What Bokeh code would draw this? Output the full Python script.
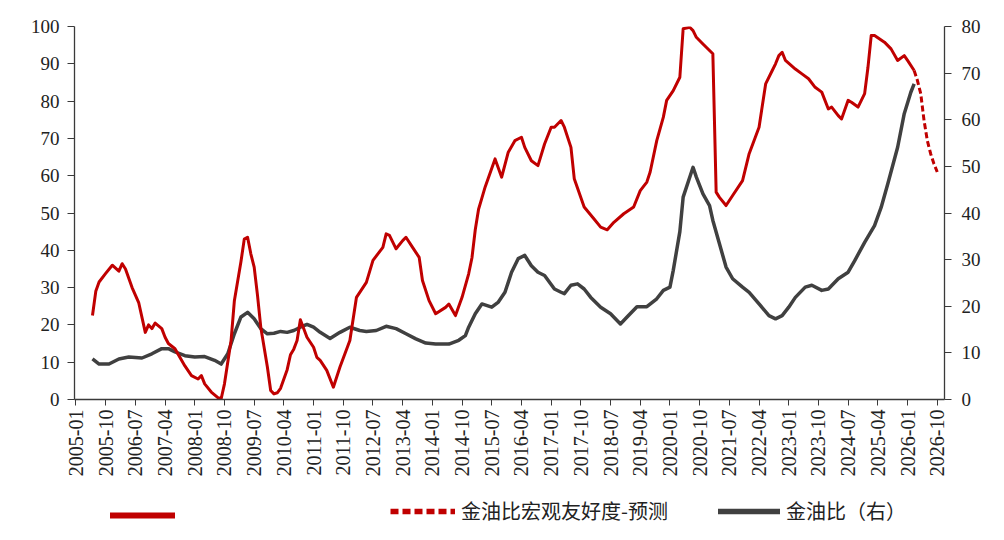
import numpy as np
from bokeh.plotting import figure
from bokeh.layouts import column
from bokeh.models import Range1d, LinearAxis, Legend, LegendItem, FixedTicker, ColumnDataSource
from bokeh.embed import file_html
from bokeh.resources import INLINE
from bokeh.core.properties import value

# ---------------- data ----------------
x_tick_labels = ["2005-01", "2005-10", "2006-07", "2007-04", "2008-01", "2008-10", "2009-07",
                 "2010-04", "2011-01", "2011-10", "2012-07", "2013-04", "2014-01", "2014-10",
                 "2015-07", "2016-04", "2017-01", "2017-10", "2018-07", "2019-04", "2020-01",
                 "2020-10", "2021-07", "2022-04", "2023-01", "2023-10", "2024-07", "2025-04",
                 "2026-01", "2026-10"]
left_ticks = [0, 10, 20, 30, 40, 50, 60, 70, 80, 90, 100]
right_ticks = [0, 10, 20, 30, 40, 50, 60, 70, 80]

# 金油比宏观友好度 (left axis)
friendly_dates = ["2005-06", "2005-07", "2005-08", "2005-10", "2005-12", "2006-02", "2006-03", "2006-04",
                  "2006-06", "2006-08", "2006-10", "2006-11", "2006-12", "2007-01", "2007-03", "2007-04",
                  "2007-05", "2007-07", "2007-09", "2007-10", "2007-12", "2008-02", "2008-03", "2008-04",
                  "2008-06", "2008-08", "2008-09", "2008-10", "2008-12", "2009-01", "2009-03", "2009-04",
                  "2009-05", "2009-06", "2009-07", "2009-08", "2009-09", "2009-11", "2009-12", "2010-01",
                  "2010-02", "2010-03", "2010-05", "2010-06", "2010-07", "2010-08", "2010-09", "2010-11",
                  "2011-01", "2011-02", "2011-03", "2011-05", "2011-07", "2011-09", "2011-12", "2012-02",
                  "2012-05", "2012-07", "2012-10", "2012-11", "2012-12", "2013-02", "2013-04", "2013-05",
                  "2013-07", "2013-09", "2013-10", "2013-12", "2014-02", "2014-05", "2014-06", "2014-08",
                  "2014-10", "2014-12", "2015-01", "2015-02", "2015-03", "2015-04", "2015-05", "2015-08",
                  "2015-10", "2015-12", "2016-02", "2016-04", "2016-05", "2016-07", "2016-09", "2016-11",
                  "2017-01", "2017-02", "2017-04", "2017-05", "2017-07", "2017-08", "2017-11", "2018-02",
                  "2018-04", "2018-06", "2018-08", "2018-11", "2019-02", "2019-04", "2019-06", "2019-07",
                  "2019-09", "2019-11", "2019-12", "2020-02", "2020-04", "2020-05", "2020-07", "2020-08",
                  "2020-09", "2020-11", "2021-02", "2021-03", "2021-04", "2021-06", "2021-08", "2021-11",
                  "2022-01", "2022-04", "2022-06", "2022-08", "2022-09", "2022-10", "2022-11", "2022-12",
                  "2023-03", "2023-05", "2023-07", "2023-09", "2023-11", "2024-01", "2024-02", "2024-04",
                  "2024-05", "2024-07", "2024-08", "2024-10", "2024-12", "2025-01", "2025-02", "2025-03",
                  "2025-06", "2025-08", "2025-10", "2025-12", "2026-01", "2026-03"]
friendly_values = [22.5, 29, 31.5, 33.8, 36, 34.4, 36.4, 35,
                   30, 26, 18, 20, 19, 20.5, 19, 16.7,
                   15, 13.6, 10.5, 9, 6.4, 5.5, 6.4, 4.2,
                   2, 0.5, 0.2, 4.2, 15.8, 26.5, 37, 43,
                   43.5, 39, 35.5, 28, 19.4, 8.7, 2.4, 1.5,
                   1.8, 3, 8, 12, 13.5, 15.8, 21.4, 16.7,
                   14, 11.3, 10.5, 7.8, 3.3, 8.7, 15.8, 27.4,
                   31.4, 37.3, 40.8, 44.4, 44, 40.4, 42.6, 43.5,
                   40.8, 38.1, 31.9, 26.5, 23, 24.7, 25.6, 22.5,
                   27.4, 33.7, 38, 45.5, 51, 54, 57, 64.5,
                   59.6, 66.3, 69.4, 70.3, 67.6, 64, 62.7, 68.5,
                   73, 73, 74.8, 73, 67.6, 59.2, 51.6, 48.4,
                   46.2, 45.5, 47.5, 49.8, 51.6, 56, 58.3, 61,
                   69.4, 75.7, 80.2, 82.8, 86.4, 99.4, 99.8, 98.9,
                   97.1, 95.3, 92.7, 55.6, 54.2, 52, 54.7, 58.7,
                   65.9, 73, 84.6, 88.2, 90, 92.2, 93.1, 90.9,
                   88.6, 87.3, 86, 83.7, 82.4, 77.9, 78.4, 76.1,
                   75.2, 80.2, 79.7, 78.4, 82, 89, 97.6, 97.6,
                   95.8, 94, 90.9, 92.2, 90.9, 88.2]

# 金油比宏观友好度-预测 (left axis)
forecast_dates = ["2026-03", "2026-04", "2026-05", "2026-06", "2026-07", "2026-08", "2026-09", "2026-10"]
forecast_values = [88.2, 85.5, 82, 74.8, 69.4, 65.9, 63.2, 61]

# 金油比 (right axis)
ratio_dates = ["2005-06", "2005-08", "2005-11", "2006-02", "2006-05", "2006-09", "2006-12", "2007-03",
               "2007-05", "2007-07", "2007-10", "2008-01", "2008-04", "2008-07", "2008-09", "2008-11",
               "2009-01", "2009-03", "2009-05", "2009-07", "2009-09", "2009-11", "2010-01", "2010-03",
               "2010-05", "2010-07", "2010-09", "2010-11", "2011-01", "2011-03", "2011-06", "2011-09",
               "2011-12", "2012-03", "2012-05", "2012-08", "2012-11", "2013-02", "2013-05", "2013-08",
               "2013-11", "2014-02", "2014-06", "2014-09", "2014-11", "2014-12", "2015-02", "2015-04",
               "2015-07", "2015-09", "2015-11", "2016-01", "2016-03", "2016-05", "2016-07", "2016-09",
               "2016-11", "2017-02", "2017-04", "2017-05", "2017-07", "2017-09", "2017-11", "2018-01",
               "2018-04", "2018-07", "2018-10", "2018-12", "2019-03", "2019-06", "2019-09", "2019-11",
               "2020-01", "2020-02", "2020-04", "2020-05", "2020-08", "2020-09", "2020-11", "2021-01",
               "2021-02", "2021-04", "2021-06", "2021-08", "2021-11", "2022-01", "2022-04", "2022-07",
               "2022-09", "2022-11", "2023-01", "2023-03", "2023-06", "2023-08", "2023-11", "2024-01",
               "2024-04", "2024-07", "2024-09", "2024-12", "2025-03", "2025-05", "2025-07", "2025-10",
               "2025-12", "2026-02", "2026-03"]
ratio_values = [8.7, 7.6, 7.6, 8.7, 9.1, 8.9, 9.8, 10.9,
                10.9, 10.2, 9.4, 9.1, 9.2, 8.4, 7.6, 9.8,
                14.1, 17.7, 18.7, 17.3, 15.2, 14.1, 14.2, 14.6,
                14.4, 14.8, 15.5, 16.1, 15.5, 14.4, 13.1, 14.4,
                15.5, 14.8, 14.6, 14.8, 15.7, 15.2, 14.1, 13,
                12.1, 11.9, 11.9, 12.7, 13.7, 15.5, 18.4, 20.5,
                19.8, 20.9, 23, 27.3, 30.2, 30.9, 28.7, 27.3,
                26.6, 23.7, 23, 22.7, 24.5, 24.8, 23.7, 21.9,
                19.8, 18.4, 16.2, 17.7, 19.9, 19.9, 21.6, 23.4,
                24.1, 27.7, 36, 43.4, 49.8, 47.7, 44.1, 41.6,
                38.4, 33.4, 28.4, 25.9, 24.1, 23, 20.5, 18,
                17.3, 18, 19.8, 21.9, 24.1, 24.5, 23.4, 23.7,
                25.9, 27.3, 29.8, 33.7, 37.3, 41.2, 46.2, 54.1,
                61.3, 65.9, 67.7]


def month_index(s):
    y, m = s.split("-")
    return (int(y) - 2005) * 12 + int(m) - 1


RED = "#C00000"
GRAY = "#404040"
AX = "#3a3a3a"

p = figure(width=1004, height=480, output_backend="svg", toolbar_location=None,
           x_range=Range1d(-0.45, 263.2), y_range=Range1d(0, 100),
           min_border_left=74, min_border_right=60, min_border_top=26, min_border_bottom=81)
p.extra_y_ranges = {"right": Range1d(0, 80)}
p.xgrid.visible = False
p.ygrid.visible = False
p.outline_line_color = None
p.background_fill_color = "white"
p.border_fill_color = "white"

# x axis
xa = p.xaxis[0]
xticks = [month_index(t) for t in x_tick_labels]
xa.ticker = FixedTicker(ticks=xticks)
xa.major_label_overrides = {t: l for t, l in zip(xticks, x_tick_labels)}
xa.major_label_orientation = np.pi / 2
xa.major_label_text_font = "Liberation Serif"
xa.major_label_text_font_size = "20px"
xa.major_label_text_color = "#222222"
xa.axis_line_color = AX
xa.major_tick_line_color = AX
xa.minor_tick_line_color = None
xa.major_tick_in = 0
xa.major_tick_out = 6
xa.major_label_standoff = 4
xa.axis_line_width = 1.3

# left axis
ya = p.yaxis[0]
ya.ticker = FixedTicker(ticks=left_ticks)
ya.major_label_text_font = "Liberation Serif"
ya.major_label_text_font_size = "19px"
ya.major_label_text_color = "#222222"
ya.axis_line_color = AX
ya.major_tick_line_color = AX
ya.minor_tick_line_color = None
ya.major_tick_in = 0
ya.major_tick_out = 7
ya.major_label_standoff = 8
ya.axis_line_width = 1.3

# right axis
ra = LinearAxis(y_range_name="right", ticker=FixedTicker(ticks=right_ticks))
ra.major_label_text_font = "Liberation Serif"
ra.major_label_text_font_size = "19px"
ra.major_label_text_color = "#222222"
ra.axis_line_color = AX
ra.major_tick_line_color = AX
ra.minor_tick_line_color = None
ra.major_tick_in = 0
ra.major_tick_out = 7
ra.major_label_standoff = 10
ra.axis_line_width = 1.3
p.add_layout(ra, "right")

# series
gsrc = ColumnDataSource(dict(x=[month_index(d) for d in ratio_dates], y=ratio_values))
fsrc = ColumnDataSource(dict(x=[month_index(d) for d in friendly_dates], y=friendly_values))
csrc = ColumnDataSource(dict(x=[month_index(d) for d in forecast_dates], y=forecast_values))

p.line("x", "y", source=gsrc, y_range_name="right", line_color=GRAY, line_width=3.5, line_join="round")
p.line("x", "y", source=fsrc, line_color=RED, line_width=3, line_join="round")
p.line("x", "y", source=csrc, line_color=RED, line_width=3, line_dash="6 3")

# ---------------- legend strip (separate figure below the chart) ----------------
q = figure(width=1004, height=60, output_backend="svg", toolbar_location=None,
           x_axis_location=None, y_axis_location=None,
           x_range=Range1d(0, 1), y_range=Range1d(0, 1),
           min_border_left=74, min_border_right=60, min_border_top=0, min_border_bottom=0)
q.xgrid.visible = False
q.ygrid.visible = False
q.outline_line_color = None
q.border_fill_color = "white"

# legend-only renderers: their points sit outside the visible range
off = dict(x=[-5, -4], y=[-5, -5])
l1 = q.line("x", "y", source=ColumnDataSource(off), line_color=RED, line_width=6, line_cap="round")
l2 = q.line("x", "y", source=ColumnDataSource(off), line_color=RED, line_width=5.5, line_dash="8 4")
l3 = q.line("x", "y", source=ColumnDataSource(off), line_color=GRAY, line_width=5.5, line_cap="round")


def make_legend(r, label, loc, gw):
    lg = Legend(items=[LegendItem(label=value(label), renderers=[r])], location=loc,
                orientation="horizontal", padding=0, margin=0, spacing=0,
                glyph_width=gw, glyph_height=20, label_standoff=6,
                label_text_font="Noto Sans CJK SC", label_text_font_size="20px",
                label_text_color="#222222", border_line_alpha=0, background_fill_alpha=0)
    q.add_layout(lg, "center")


make_legend(l1, " ", (36, 15), 65)
make_legend(l2, "金油比宏观友好度-预测", (316, 15), 65)
make_legend(l3, "金油比（右）", (644, 15), 62)

layout = column(p, q, spacing=0)
open("out.html", "w").write(file_html(layout, INLINE))
